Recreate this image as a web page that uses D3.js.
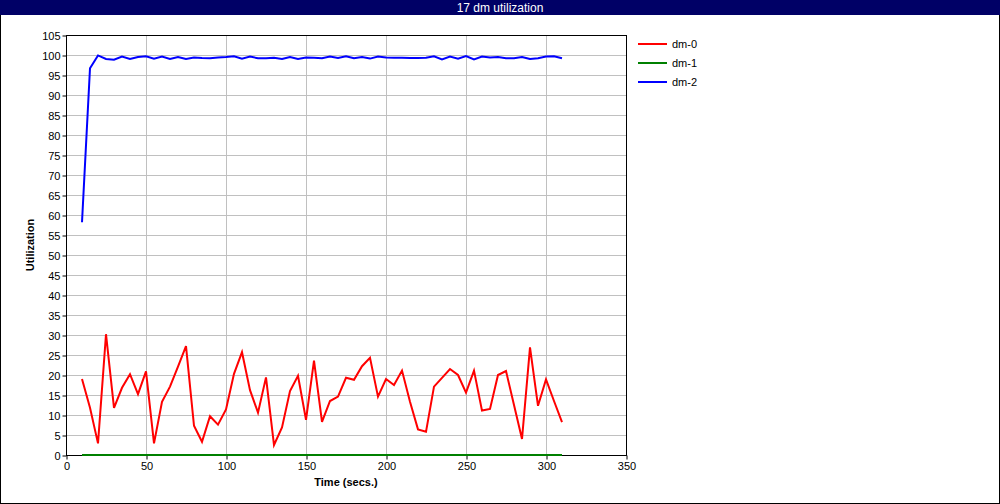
<!DOCTYPE html>
<html><head><meta charset="utf-8">
<script src="https://cdn.jsdelivr.net/npm/d3@7"></script>
<style>body{margin:0;background:#fff}svg{display:block}</style>
</head><body>
<svg id="c" width="1000" height="504"></svg>
<script>
const title = "17 dm utilization";
const times = d3.range(10, 311, 5);
const dm0 = [19,11.8,2.9,30.2,11.8,16.8,20.2,15.2,20.9,2.9,13.3,17.1,22.1,27.2,7.3,3.3,9.7,7.6,11.4,20.3,25.7,16.2,10.6,19.4,2.5,6.9,16,19.8,8.8,23.6,8.3,13.5,14.6,19.3,18.8,22.2,24.3,14.6,19,17.5,21.1,13.3,6.4,5.8,17.1,19.3,21.5,20,15.6,21.1,11.1,11.5,20,21,12.5,4,26.9,12.3,18.9,13.5,8.2];
const dm1 = times.map(() => 0);
const dm2 = [58.2,96.7,99.9,99,98.8,99.6,99,99.5,99.7,99.1,99.6,99,99.5,99,99.4,99.25,99.2,99.4,99.5,99.7,99.1,99.6,99.2,99.2,99.3,99,99.5,99,99.4,99.3,99.2,99.6,99.25,99.7,99.2,99.5,99.1,99.6,99.35,99.3,99.3,99.25,99.25,99.3,99.7,98.9,99.6,99.1,99.75,98.9,99.6,99.4,99.5,99.2,99.2,99.5,99,99.2,99.6,99.7,99.2];
const seriesNames = ["dm-0","dm-1","dm-2"];
const seriesColors = ["#ff0000","#008000","#0000ff"];
const xTicks = d3.range(0, 351, 50);
const yTicks = d3.range(0, 106, 5);

const svg = d3.select("#c");
const W = 1000, H = 504;
const font = "Liberation Sans, Arial, sans-serif";
svg.append("rect").attr("x",0.5).attr("y",0.5).attr("width",W-1).attr("height",H-1).attr("fill","#fff").attr("stroke","#000");
svg.append("rect").attr("x",0).attr("y",0).attr("width",W).attr("height",15).attr("fill","#000066");
svg.append("text").attr("x",W/2).attr("y",11.5).attr("text-anchor","middle").attr("fill","#fff")
  .attr("font-family",font).attr("font-size",12).text(title);

const L=66, R=626, T=35, B=455;
const x = d3.scaleLinear().domain([0,350]).range([L,R]);
const y = d3.scaleLinear().domain([0,105]).range([B,T]);

const g = svg.append("g");
g.selectAll(".vg").data(xTicks).join("line").attr("x1",d=>x(d)+0.5).attr("x2",d=>x(d)+0.5).attr("y1",T).attr("y2",B).attr("stroke","#c0c0c0");
g.selectAll(".hg").data(yTicks).join("line").attr("x1",L).attr("x2",R).attr("y1",d=>y(d)+0.5).attr("y2",d=>y(d)+0.5).attr("stroke","#c0c0c0");

const xa = svg.append("g").attr("transform",`translate(0.5,${B+0.5})`).call(d3.axisBottom(x).tickValues(xTicks).tickSize(4).tickSizeOuter(0).tickFormat(d3.format("d")));
const ya = svg.append("g").attr("transform",`translate(${L+0.5},0.5)`).call(d3.axisLeft(y).tickValues(yTicks).tickSize(4).tickSizeOuter(0).tickFormat(d3.format("d")));
[xa,ya].forEach(a=>{a.selectAll("text").attr("font-family",font).attr("font-size",11).attr("fill","#000");a.select(".domain").remove();a.selectAll("line").attr("stroke","#000");});
ya.selectAll("text").attr("x",-6);
xa.selectAll("text").attr("y",7);

svg.append("rect").attr("x",L+0.5).attr("y",T+0.5).attr("width",R-L).attr("height",B-T).attr("fill","none").attr("stroke","#000");

const line = d3.line().x((d,i)=>x(times[i])).y(d=>y(d));
[dm0,dm1,dm2].forEach((s,k)=>{
  svg.append("path").datum(s).attr("d",line).attr("fill","none").attr("stroke",seriesColors[k]).attr("stroke-width",2).attr("stroke-linejoin","miter");
});

svg.append("text").attr("x",(L+R)/2).attr("y",486).attr("text-anchor","middle").attr("font-family",font).attr("font-size",11).attr("font-weight","bold").text("Time (secs.)");
svg.append("text").attr("transform",`translate(34,${(T+B)/2}) rotate(-90)`).attr("text-anchor","middle").attr("font-family",font).attr("font-size",11).attr("font-weight","bold").text("Utilization");

const lg = svg.append("g");
seriesNames.forEach((n,k)=>{
  const yy = 44 + k*19;
  lg.append("line").attr("x1",638).attr("x2",667).attr("y1",yy).attr("y2",yy).attr("stroke",seriesColors[k]).attr("stroke-width",2);
  lg.append("text").attr("x",672).attr("y",yy+4).attr("font-family",font).attr("font-size",11).text(n);
});
</script>
</body></html>
